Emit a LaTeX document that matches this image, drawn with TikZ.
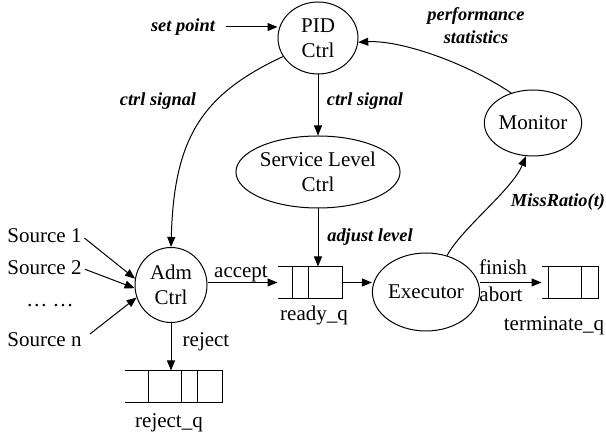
\documentclass[tikz,border=0pt]{standalone}
\usepackage{fontspec}
\setmainfont{Liberation Serif}
\usetikzlibrary{shapes.geometric,arrows.meta}
\begin{document}
\begin{tikzpicture}[x=.5pt,y=-.5pt,font=\fontsize{10.5}{12.5}\selectfont,line width=.5pt,>={Triangle[length=5pt,width=4pt]}]
\tikzset{blob/.style={draw,ellipse,inner sep=0,align=center},
 lbl/.style={font=\fontsize{9.2}{11.5}\selectfont\bfseries\itshape,align=center},
 queue/.style={inner sep=0,minimum height=15.5pt}}
\useasboundingbox (0,0) rectangle (606,437);
\node[blob,minimum width=40pt,minimum height=36pt] (pid) at (318,38) {PID\\Ctrl};
\node[blob,minimum width=72pt,minimum height=36pt] (slc) at (318,172) {Service Level\\Ctrl};
\node[blob,minimum width=36pt,minimum height=37.5pt] (adm) at (171,285) {Adm\\Ctrl};
\node[blob,minimum width=43.5pt,minimum height=39pt] (exe) at (426,292) {Executor};
\node[blob,minimum width=40pt,minimum height=33pt] (mon) at (533,123) {Monitor};
% queues: open on the left, cells counted from the left end
\node[queue,minimum width=32pt] (rdq) at (310,282.5) {};
\node[queue,minimum width=48.5pt] (rjq) at (173.5,386.5) {};
\node[queue,minimum width=28pt] (tmq) at (570,282.5) {};
\foreach \q/\cells in {rdq/{15,31},rjq/{24,57,73},tmq/{7,40}}{
 \draw (\q.north west)--(\q.north east)--(\q.south east)--(\q.south west);
 \foreach \d in \cells{\draw ([xshift=\d*.5pt]\q.north west)--([xshift=\d*.5pt]\q.south west);}
}
\node[anchor=base] (rdql) at (314,321) {ready\_q};
\node[anchor=base] (rjql) at (169,428) {reject\_q};
\node[anchor=base] (tmql) at (554,331) {terminate\_q};
% task sources
\node[anchor=base west,inner sep=0] (s1) at (7,243) {Source 1};
\node[anchor=base west,inner sep=0] (s2) at (7,275) {Source 2};
\node[anchor=base] (sdots) at (50,307) {… …};
\node[anchor=base west,inner sep=0] (sn) at (7,347) {Source n};
\draw[->,shorten <=1.5pt] (s1.east) -- (adm.170);
\draw[->,shorten <=1.5pt] (s2.east) -- (adm.185);
\draw[->,shorten <=5pt] (sn.east) -- (adm.200);
% control loop
\node[lbl] (sp) at (183,27) {set point};
\draw[->,shorten <=2pt] (sp.east) -- (sp.east -| pid.west);
\draw[->] (pid) -- (slc);
\draw[->] (pid.208) .. controls (200,95) and (174,140) .. (adm.north);
\node[lbl] (cs1) at (158,101) {ctrl signal};
\node[lbl] (cs2) at (365,101) {ctrl signal};
\draw[->] (slc.south) -- (slc.south |- rdq.north);
\node[lbl] (adj) at (370,237) {adjust level};
\draw[->] (exe.60) .. controls (462,228) and (512,190) .. (mon.258);
\node[lbl] (mr) at (558,202) {MissRatio(t)};
\draw[->] (mon.126) .. controls (465,62) and (400,40) .. (pid.354);
\node[lbl] (perf) at (476,26) {performance\\statistics};
% task flow
\draw[->] (rdq.west -| adm.east) -- (rdq.west);
\node[anchor=base] (acc) at (241,278) {accept};
\draw[->] (adm.south) -- (adm.south |- rjq.north);
\node[anchor=base] (rej) at (206,347) {reject};
\draw[->] (rdq.east) -- (rdq.east -| exe.west);
\draw[->] (tmq.west -| exe.east) -- (tmq.west);
\node[anchor=base] (fin) at (503,275) {finish};
\node[anchor=base] (abt) at (501,302) {abort};
\end{tikzpicture}
\end{document}
